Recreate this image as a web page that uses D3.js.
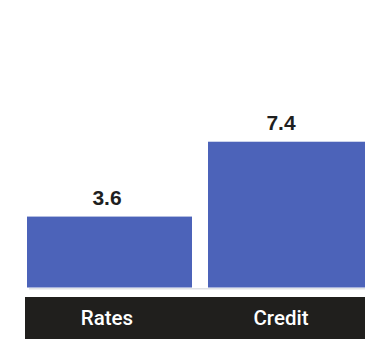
<!DOCTYPE html>
<html>
<head>
<meta charset="utf-8">
<script src="https://cdn.jsdelivr.net/npm/d3@7"></script>
<style>
  html, body { margin: 0; padding: 0; background: #ffffff; }
  svg { display: block; }
</style>
</head>
<body>
<div id="chart"></div>
<script>
// Categories and their values
const categories = ["Rates", "Credit"];
const values = [3.6, 7.4];
const valueLabels = ["3.6", "7.4"];

const width = 365, height = 339;
const baseline = 287.5;

const svg = d3.select("#chart").append("svg")
  .attr("width", width)
  .attr("height", height);

// Bars run past the right edge of the frame
const x = d3.scaleBand()
  .domain(categories)
  .range([27, 373])
  .paddingInner(16 / 181);

// Label positions
const xl = d3.scaleBand()
  .domain(categories)
  .range([20, 368]);

const y = d3.scaleLinear()
  .domain([0, 10])
  .range([baseline, baseline - 197]);

// Bars
svg.selectAll("rect.bar")
  .data(categories)
  .join("rect")
  .attr("class", "bar")
  .attr("x", d => x(d))
  .attr("width", x.bandwidth())
  .attr("y", (d, i) => y(values[i]))
  .attr("height", (d, i) => y(0) - y(values[i]))
  .attr("fill", "#4c63b9");

// Baseline rule
svg.append("line")
  .attr("x1", 29).attr("x2", width)
  .attr("y1", baseline + 1.2).attr("y2", baseline + 1.2)
  .attr("stroke", "#dfe2e5")
  .attr("stroke-width", 1.6);

// Value labels
svg.selectAll("text.value")
  .data(categories)
  .join("text")
  .attr("class", "value")
  .attr("x", d => xl(d) + xl.bandwidth() / 2)
  .attr("y", (d, i) => y(values[i]) - 12)
  .attr("text-anchor", "middle")
  .attr("font-family", "Liberation Sans, Arial, sans-serif")
  .attr("font-weight", "bold")
  .attr("font-size", 21)
  .attr("fill", "#1f1f1f")
  .text((d, i) => valueLabels[i]);

// Category band
svg.append("rect")
  .attr("x", 25).attr("y", 297)
  .attr("width", width - 25).attr("height", height - 297)
  .attr("fill", "#201f1d");

svg.selectAll("text.cat")
  .data(categories)
  .join("text")
  .attr("class", "cat")
  .attr("x", d => xl(d) + xl.bandwidth() / 2)
  .attr("y", 325)
  .attr("text-anchor", "middle")
  .attr("font-family", "Roboto, Arial, sans-serif")
  .attr("font-weight", 500)
  .attr("font-size", 20.5)
  .attr("fill", "#ffffff")
  .text(d => d);
</script>
</body>
</html>
